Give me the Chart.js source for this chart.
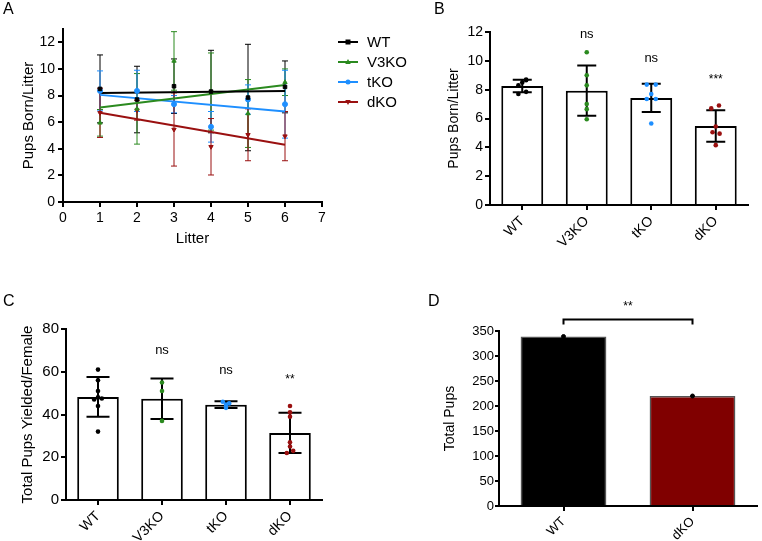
<!DOCTYPE html>
<html>
<head>
<meta charset="utf-8">
<title>Pups per litter</title>
<script src="https://cdn.jsdelivr.net/npm/chart.js@4.4.1/dist/chart.umd.min.js"></script>
<style>
    body { margin: 0; background: #fff; width: 762px; height: 541px; overflow: hidden; position: relative; font-family: 'Liberation Sans', Arial, sans-serif; }
    canvas { position: absolute; }
    .panelLbl { position: absolute; font-size: 16px; line-height: 16px; color: #000; }
</style>
</head>
<body>
<canvas id="chartA" width="430" height="262" style="left:0px;top:0px"></canvas>
<canvas id="chartB" width="382" height="265" style="left:380px;top:0px"></canvas>
<canvas id="chartC" width="380" height="271" style="left:0px;top:270px"></canvas>
<canvas id="chartD" width="382" height="271" style="left:380px;top:270px"></canvas>
<div class="panelLbl" style="left:3px;top:1px">A</div>
<div class="panelLbl" style="left:434px;top:1px">B</div>
<div class="panelLbl" style="left:3px;top:293px">C</div>
<div class="panelLbl" style="left:428px;top:293px">D</div>
<script>
// ---- data ----
var groups = ['WT', 'V3KO', 'tKO', 'dKO'];
var groupColors = ['#000000', '#2b8a1f', '#1e8fff', '#9a1010'];
var groupMarkers = ['rect', 'triangle', 'circle', 'triangle'];
var litters = [1, 2, 3, 4, 5, 6];

// panel A: mean +/- SD per litter (the same means are the dots of panel B)
var wtLitterMean = [8.5, 7.7, 8.7, 8.3, 7.85, 8.65];
var wtLitterSd = [2.55, 2.5, 2.05, 3.1, 4.0, 1.95];
var v3koLitterMean = [5.95, 7.0, 10.6, 8.3, 6.65, 9.0];
var v3koLitterSd = [1.0, 2.65, 2.2, 2.9, 2.55, 1.0];
var tkoLitterMean = [8.35, 8.35, 7.35, 5.65, 7.7, 7.35];
var tkoLitterSd = [1.5, 1.55, 0.65, 1.15, 1.1, 2.55];
var dkoLitterMean = [6.7, 6.9, 5.45, 4.15, 5.05, 4.95];
var dkoLitterSd = [1.85, 0.75, 2.75, 2.12, 1.95, 1.85];

// fitted lines, read at litter 1 and litter 6
var fitX = [1, 6];
var wtFit = [8.2, 8.35];
var v3koFit = [7.1, 8.8];
var tkoFit = [8.05, 6.8];
var dkoFit = [6.7, 4.3];

// panel B: pups born per litter
var bMean = [8.25, 7.93, 7.43, 5.48];
var bSd = [0.43, 1.74, 0.98, 1.1];
var bJitter = [
    [0, -0.06, 0.06, -0.06, 0.06, 0.06],
    [0, 0, 0, 0, 0, 0],
    [-0.07, 0.07, -0.07, 0, 0, 0.07],
    [-0.07, 0.05, 0, 0, -0.05, 0.06]
];
var bSig = ['', 'ns', 'ns', '***'];
var bSigAt = [null, 11.6, 9.9, 8.45];

// panel C: total pups yielded per female
var cMean = [48.2, 47.4, 44.6, 31.4];
var cSd = [9.3, 9.5, 1.6, 9.4];
var cWt = [61, 56, 51, 47, 48, 47.5, 44, 32];
var cV3ko = [55, 51, 37];
var cTko = [46, 45.2, 44.6, 43.1];
var cDko = [44, 41, 39, 27, 25, 23, 22];
var cJitter = [
    [0, 0, 0, -0.06, 0, 0.06, 0, 0],
    [0, 0, 0],
    [-0.05, 0.05, 0, 0],
    [0, 0, 0, 0, 0, 0.05, -0.05]
];
var cSig = ['', 'ns', 'ns', '**'];
var cSigAt = [null, 68.2, 58.9, 54.7];

// panel D: total pups
var dGroups = ['WT', 'dKO'];
var dTotal = [339, 220];
var dColors = ['#000000', '#800000'];
var dSig = '**';
var dSigAt = 392;
var dBracketAt = 373;

// ---- shared look ----
var fontFam = "'Liberation Sans', Arial, sans-serif";
Chart.defaults.font.family = fontFam;
Chart.defaults.color = '#000';
Chart.defaults.animation = false;
Chart.defaults.events = [];

function axisGrid(len) {
    return { display: true, drawOnChartArea: false, color: '#000', lineWidth: 2, tickLength: len };
}
var axisBorder = { display: true, color: '#000', width: 2 };

// error bars: drawn under the points (panel A) or right after the bars (B, C)
function drawErr(chart, ds, meta) {
    var ctx = chart.ctx;
    var ys = chart.scales[meta.yAxisID];
    ctx.save();
    ctx.strokeStyle = ds.errColor;
    ctx.lineWidth = ds.errWidth;
    meta.data.forEach(function (el, i) {
        var v = (typeof ds.data[i] === 'object') ? ds.data[i].y : ds.data[i];
        var x = (typeof ds.data[i] === 'object') ? chart.scales[meta.xAxisID].getPixelForValue(ds.data[i].x) : el.x;
        var yTop = ys.getPixelForValue(v + ds.sd[i]);
        var yBot = ys.getPixelForValue(v - ds.sd[i]);
        var c = ds.errCap;
        ctx.beginPath();
        ctx.moveTo(x, yTop); ctx.lineTo(x, yBot);
        ctx.moveTo(x - c, yTop); ctx.lineTo(x + c, yTop);
        ctx.moveTo(x - c, yBot); ctx.lineTo(x + c, yBot);
        ctx.stroke();
    });
    ctx.restore();
}

var errPlugin = {
    id: 'errPlugin',
    beforeDatasetsDraw: function (chart) {
        chart.data.datasets.forEach(function (ds, i) {
            if (ds.sd && ds.errUnder) drawErr(chart, ds, chart.getDatasetMeta(i));
        });
    },
    afterDatasetDraw: function (chart, args) {
        var ds = chart.data.datasets[args.index];
        if (ds.sd && !ds.errUnder) drawErr(chart, ds, args.meta);
    }
};

// significance text above the bars
function sigPlugin(labels, at) {
    return {
        id: 'sigPlugin',
        afterDraw: function (chart) {
            var ctx = chart.ctx;
            ctx.save();
            ctx.fillStyle = '#000';
            ctx.textAlign = 'center';
            ctx.textBaseline = 'alphabetic';
            labels.forEach(function (t, i) {
                if (!t) return;
                ctx.font = (t === 'ns' ? '13px ' : '12px ') + fontFam;
                ctx.fillText(t, chart.scales.x.getPixelForValue(i), chart.scales.y.getPixelForValue(at[i]));
            });
            ctx.restore();
        }
    };
}

function drawMarker(ctx, style, x, y, r, flip) {
    ctx.beginPath();
    if (style === 'rect') {
        ctx.rect(x - r, y - r, 2 * r, 2 * r);
    } else if (style === 'triangle') {
        var s = flip ? -1 : 1;
        ctx.moveTo(x, y - s * r * 1.2);
        ctx.lineTo(x - r * 1.1, y + s * r * 0.8);
        ctx.lineTo(x + r * 1.1, y + s * r * 0.8);
        ctx.closePath();
    } else {
        ctx.arc(x, y, r, 0, Math.PI * 2);
    }
    ctx.fill();
}

var legendA = {
    id: 'legendA',
    afterDraw: function (chart) {
        var ctx = chart.ctx;
        ctx.save();
        groups.forEach(function (g, i) {
            var y = 42 + i * 20;
            ctx.strokeStyle = groupColors[i];
            ctx.fillStyle = groupColors[i];
            ctx.lineWidth = 2;
            ctx.beginPath();
            ctx.moveTo(338, y); ctx.lineTo(358, y);
            ctx.stroke();
            drawMarker(ctx, groupMarkers[i], 348, y, 2.5, i === 3);
            ctx.fillStyle = '#000';
            ctx.font = '15px ' + fontFam;
            ctx.textAlign = 'left';
            ctx.textBaseline = 'middle';
            ctx.fillText(g, 367, y + 1);
        });
        ctx.restore();
    }
};

// ---- panel A ----
var meansA = [wtLitterMean, v3koLitterMean, tkoLitterMean, dkoLitterMean];
var sdsA = [wtLitterSd, v3koLitterSd, tkoLitterSd, dkoLitterSd];
var fitsA = [wtFit, v3koFit, tkoFit, dkoFit];
var dataA = [];
groups.forEach(function (g, i) {
    dataA.push({
        type: 'line',
        data: fitX.map(function (x, k) { return { x: x, y: fitsA[i][k] }; }),
        borderColor: groupColors[i],
        borderWidth: 2,
        pointRadius: 0,
        fill: false,
        order: 2
    });
    dataA.push({
        type: 'scatter',
        data: litters.map(function (x, k) { return { x: x, y: meansA[i][k] }; }),
        sd: sdsA[i],
        errUnder: true,
        errColor: groupColors[i],
        errWidth: 1,
        errCap: 3,
        pointStyle: groupMarkers[i],
        rotation: i === 3 ? 180 : 0,
        pointRadius: 2.5,
        backgroundColor: groupColors[i],
        borderColor: groupColors[i],
        borderWidth: 1,
        order: 1
    });
});

var wtk0Chart = new Chart(document.getElementById('chartA'), {
    type: 'scatter',
    data: { datasets: dataA },
    options: {
        responsive: false,
        layout: { padding: { left: 0, top: 29, right: 108, bottom: 0 } },
        plugins: { legend: { display: false }, tooltip: { enabled: false } },
        scales: {
            x: {
                type: 'linear', min: 0, max: 7,
                ticks: { stepSize: 1, font: { size: 14 }, padding: 3, color: '#000' },
                grid: axisGrid(5), border: axisBorder,
                title: { display: true, text: 'Litter', font: { size: 15 }, padding: { top: 0, bottom: 14 } },
                afterFit: function (s) { s.height = 60; }
            },
            y: {
                min: 0, max: 13,
                ticks: { stepSize: 1, font: { size: 14 }, padding: 3, color: '#000',
                    callback: function (v) { return v % 2 ? '' : v; } },
                grid: { display: true, drawOnChartArea: false, color: '#000', tickLength: 5,
                    lineWidth: function (c) { return c.tick && c.tick.value % 2 ? 1.5 : 2; } },
                border: axisBorder,
                title: { display: true, text: 'Pups Born/Litter', font: { size: 15 }, padding: { top: 20, bottom: 0 } },
                afterFit: function (s) { s.width = 63; }
            }
        }
    },
    plugins: [errPlugin, legendA]
});

// ---- bar panels B and C ----
function dotSets(values, jitter) {
    return values.map(function (vals, i) {
        return {
            type: 'scatter',
            xAxisID: 'xd',
            data: vals.map(function (v, k) { return { x: i + jitter[i][k], y: v }; }),
            pointRadius: 2.3,
            pointBorderWidth: 0,
            backgroundColor: groupColors[i],
            borderColor: groupColors[i],
            order: 1
        };
    });
}

function barChart(id, mean, sd, dots, jitter, cfg) {
    var sets = [{
        type: 'bar',
        data: mean,
        sd: sd,
        errColor: '#000',
        errWidth: 2,
        errCap: cfg.cap,
        backgroundColor: '#ffffff',
        borderColor: '#000000',
        borderWidth: 2,
        borderSkipped: 'start',
        grouped: false,
        barPercentage: 0.65,
        categoryPercentage: 1,
        order: 2
    }].concat(dotSets(dots, jitter));
    return new Chart(document.getElementById(id), {
        type: 'bar',
        data: { labels: groups, datasets: sets },
        options: {
            responsive: false,
            layout: { padding: cfg.pad },
            plugins: { legend: { display: false }, tooltip: { enabled: false } },
            scales: {
                x: {
                    type: 'category', offset: true,
                    ticks: { font: { size: 14 }, color: '#000', maxRotation: 45, minRotation: 45, autoSkip: false, padding: 3 },
                    grid: { display: true, drawOnChartArea: false, offset: false, color: '#000', lineWidth: 2, tickLength: 5 },
                    border: axisBorder,
                    afterFit: function (s) { s.height = cfg.xh; }
                },
                xd: { type: 'linear', min: -0.5, max: 3.5, offset: false, display: false, grid: { offset: false } },
                y: {
                    min: 0, max: cfg.max,
                    ticks: { stepSize: cfg.step, font: { size: cfg.tickSize }, padding: 2, color: '#000' },
                    grid: axisGrid(5), border: axisBorder,
                    title: { display: true, text: cfg.title, font: { size: cfg.titleSize }, padding: { top: cfg.titlePad, bottom: 0 } },
                    afterFit: function (s) { s.width = cfg.yw; }
                }
            }
        },
        plugins: [errPlugin, sigPlugin(cfg.sig, cfg.sigAt)]
    });
}

var bDots = [wtLitterMean, v3koLitterMean, tkoLitterMean, dkoLitterMean];
var wtk1Chart = barChart('chartB', bMean, bSd, bDots, bJitter, {
    cap: 9.5, pad: { left: 0, top: 32, right: 14, bottom: 0 }, xh: 60, yw: 110,
    max: 12, step: 2, tickSize: 14, title: 'Pups Born/Litter', titleSize: 14, titlePad: 66,
    sig: bSig, sigAt: bSigAt
});

var wtk2Chart = barChart('chartC', cMean, cSd, [cWt, cV3ko, cTko, cDko], cJitter, {
    cap: 11.5, pad: { left: 0, top: 59, right: 58, bottom: 0 }, xh: 41, yw: 66,
    max: 80, step: 20, tickSize: 15, title: 'Total Pups Yielded/Female', titleSize: 15, titlePad: 19,
    sig: cSig, sigAt: cSigAt
});

// ---- panel D ----
var bracketD = {
    id: 'bracketD',
    afterDraw: function (chart) {
        var ctx = chart.ctx;
        var x0 = chart.scales.x.getPixelForValue(0);
        var x1 = chart.scales.x.getPixelForValue(1);
        var y = chart.scales.y.getPixelForValue(dBracketAt);
        ctx.save();
        ctx.strokeStyle = '#000';
        ctx.lineWidth = 2;
        ctx.beginPath();
        ctx.moveTo(x0, y + 5); ctx.lineTo(x0, y); ctx.lineTo(x1, y); ctx.lineTo(x1, y + 5);
        ctx.stroke();
        ctx.fillStyle = '#000';
        ctx.font = '12px ' + fontFam;
        ctx.textAlign = 'center';
        ctx.fillText(dSig, (x0 + x1) / 2, chart.scales.y.getPixelForValue(dSigAt));
        ctx.restore();
    }
};

var wtk3Chart = new Chart(document.getElementById('chartD'), {
    type: 'bar',
    data: {
        labels: dGroups,
        datasets: [{
            type: 'bar',
            data: dTotal,
            backgroundColor: dColors,
            borderColor: '#555555',
            borderWidth: 1.5,
            grouped: false,
            barPercentage: 0.665,
            categoryPercentage: 1,
            order: 2
        }, {
            type: 'scatter',
            xAxisID: 'xd',
            data: dTotal.map(function (v, i) { return { x: i, y: v }; }),
            pointRadius: 2,
            backgroundColor: '#000',
            borderColor: '#000',
            order: 1
        }]
    },
    options: {
        responsive: false,
        layout: { padding: { left: 0, top: 61, right: 0, bottom: 0 } },
        plugins: { legend: { display: false }, tooltip: { enabled: false } },
        scales: {
            x: {
                type: 'category', offset: true,
                ticks: { font: { size: 13 }, color: '#000', maxRotation: 45, minRotation: 45, autoSkip: false, padding: 3 },
                grid: { display: true, drawOnChartArea: false, offset: false, color: '#000', lineWidth: 2, tickLength: 5 },
                border: axisBorder,
                afterFit: function (s) { s.height = 35; }
            },
            xd: { type: 'linear', min: -0.5, max: 1.5, offset: false, display: false, grid: { offset: false } },
            y: {
                min: 0, max: 350,
                ticks: { stepSize: 50, font: { size: 13 }, padding: 1, color: '#000' },
                grid: axisGrid(4), border: axisBorder,
                title: { display: true, text: 'Total Pups', font: { size: 14 }, padding: { top: 62, bottom: 0 } },
                afterFit: function (s) { s.width = 119; }
            }
        }
    },
    plugins: [bracketD]
});
</script>
</body>
</html>
